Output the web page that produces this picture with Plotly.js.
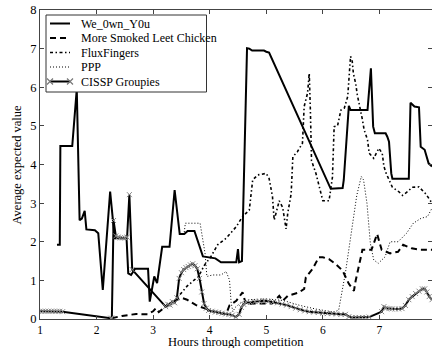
<!DOCTYPE html>
<html>
<head>
<meta charset="utf-8">
<script src="https://cdn.plot.ly/plotly-3.0.1.min.js"></script>
<style>html,body{margin:0;padding:0;background:#fff;}#chart{width:432px;height:348px;}</style>
</head>
<body>
<div id="chart"></div>
<script>
// Team names
const teamNames = ["We_0wn_Y0u", "More Smoked Leet Chicken", "FluxFingers", "PPP", "CISSP Groupies"];

// We_0wn_Y0u
const weX = [1.30,1.35,1.36,1.57,1.65,1.70,1.74,1.79,1.82,1.97,2.03,2.11,2.24,2.32,2.53,2.56,2.61,2.68,2.91,2.94,3.02,3.07,3.16,3.29,3.38,3.41,3.47,3.55,3.61,3.73,3.88,4.10,4.20,4.47,4.50,4.52,4.57,4.66,4.70,4.75,4.96,5.00,5.05,6.14,6.35,6.37,6.46,6.49,6.79,6.85,6.89,6.92,7.11,7.14,7.17,7.21,7.23,7.52,7.55,7.62,7.70,7.73,7.80,7.87,7.93];
const weY = [1.92,1.92,4.48,4.48,5.95,2.56,2.60,2.80,2.32,2.30,2.22,0.75,3.30,2.09,2.09,1.18,1.14,1.30,1.30,0.45,1.10,0.93,1.87,1.87,3.34,3.00,2.20,2.20,2.28,2.28,1.62,1.57,1.47,1.47,1.81,1.47,1.50,7.01,7.00,6.95,6.95,6.92,6.90,3.37,3.39,3.60,5.52,5.41,5.41,6.49,4.98,4.81,4.81,4.72,4.59,3.77,3.63,3.63,5.60,5.50,5.48,4.46,4.38,4.03,3.95];

// More Smoked Leet Chicken
const mslX = [2.27,2.45,2.70,2.90,3.00,3.05,3.10,3.20,3.35,3.50,3.60,3.76,3.90,4.00,4.20,4.29,4.35,4.47,4.58,4.64,4.80,5.10,5.23,5.29,5.38,5.58,5.67,5.70,5.82,5.93,6.00,6.11,6.23,6.35,6.46,6.55,6.58,6.64,6.70,6.86,6.96,7.04,7.19,7.33,7.42,7.57,7.72,7.93];
const mslY = [0.02,0.08,0.13,0.12,0.20,0.28,0.18,0.30,0.45,0.55,0.50,0.36,0.28,0.22,0.15,0.13,0.35,0.47,0.69,0.39,0.40,0.40,0.60,0.47,0.60,0.69,0.78,1.08,1.30,1.60,1.60,1.55,1.42,1.25,0.91,0.73,0.99,1.42,1.79,1.79,2.20,1.79,1.70,1.74,1.92,1.83,1.79,1.79];

// FluxFingers
const ffX = [3.22,3.40,3.60,3.80,3.91,4.02,4.14,4.29,4.47,4.58,4.70,4.76,4.85,5.00,5.05,5.11,5.14,5.23,5.29,5.32,5.35,5.38,5.44,5.47,5.55,5.64,5.67,5.73,5.76,5.78,5.80,5.88,6.00,6.11,6.14,6.17,6.20,6.26,6.32,6.38,6.44,6.49,6.52,6.54,6.58,6.61,6.70,6.73,6.79,6.82,6.90,6.99,7.05,7.08,7.12,7.19,7.23,7.34,7.41,7.50,7.58,7.70,7.82,7.93];
const ffY = [0.32,0.50,0.85,1.10,1.40,1.61,1.92,2.09,2.39,2.65,2.82,3.60,3.73,3.77,3.64,3.17,2.56,3.06,2.89,2.59,2.33,2.74,3.24,4.20,4.33,4.55,5.50,5.85,6.36,5.40,4.10,3.76,3.06,3.06,3.32,3.67,4.98,5.00,5.41,5.46,5.76,6.80,6.67,6.36,6.10,5.80,5.16,4.90,4.64,4.29,4.16,4.42,4.29,3.95,3.77,3.51,3.41,3.30,3.20,3.30,3.41,3.42,3.24,3.00];

// PPP
const pppX = [3.55,3.57,3.83,3.92,3.95,4.05,4.20,4.29,4.35,4.38,4.41,4.45,4.55,4.70,5.00,5.30,5.60,5.90,6.20,6.28,6.40,6.50,6.60,6.68,6.72,6.78,6.84,6.90,6.98,7.10,7.19,7.33,7.48,7.60,7.74,7.85,7.93];
const pppY = [2.25,2.48,2.48,1.68,1.10,1.14,1.14,1.23,1.01,0.41,0.19,0.30,0.42,0.50,0.52,0.48,0.35,0.25,0.18,0.23,1.20,2.20,3.20,3.69,3.60,3.00,1.96,1.53,1.44,1.61,2.00,2.00,2.22,2.48,2.61,2.65,2.87];

// CISSP Groupies
const cgX = [1.00,1.05,1.10,1.15,1.20,1.25,1.30,1.35,1.40,2.25,2.27,2.30,2.34,2.38,2.42,2.46,2.50,2.54,2.58,2.63,3.22,3.26,3.30,3.34,3.38,3.42,3.46,3.50,3.54,3.58,3.62,3.66,3.70,3.74,3.78,3.82,3.86,3.90,3.94,3.98,4.04,4.10,4.16,4.22,4.28,4.34,4.40,4.46,4.52,4.56,4.60,4.65,4.72,4.80,4.88,4.96,5.04,5.12,5.20,5.28,5.36,5.44,5.52,5.60,5.68,5.76,5.84,5.92,6.00,6.08,6.16,6.24,6.32,6.40,6.46,6.52,6.58,6.64,6.70,6.76,6.82,7.04,7.08,7.12,7.17,7.22,7.28,7.34,7.40,7.46,7.52,7.58,7.64,7.70,7.76,7.80,7.84,7.88,7.93];
const cgY = [0.20,0.20,0.20,0.20,0.20,0.20,0.20,0.20,0.19,0.02,0.02,2.55,2.15,2.12,2.10,2.10,2.10,2.12,3.22,1.28,0.32,0.38,0.36,0.45,0.42,0.55,1.05,1.20,1.28,1.33,1.36,1.40,1.43,1.38,1.30,1.05,0.70,0.40,0.28,0.22,0.20,0.18,0.17,0.15,0.13,0.12,0.10,0.05,0.12,0.30,0.38,0.43,0.43,0.45,0.46,0.47,0.46,0.44,0.42,0.39,0.36,0.32,0.28,0.24,0.21,0.19,0.18,0.17,0.15,0.14,0.14,0.13,0.12,0.12,0.06,0.04,0.04,0.04,0.04,0.04,0.05,0.19,0.32,0.28,0.27,0.26,0.26,0.26,0.27,0.35,0.50,0.58,0.66,0.72,0.78,0.78,0.70,0.58,0.50];

const xTicks = [1,2,3,4,5,6,7];
const yTicks = [0,1,2,3,4,5,6,7,8];

const FONT = "Liberation Serif";
const X_RANGE = [1, 7.93];
const Y_RANGE = [0, 8];
const PLOT = {left: 40, right: 432, top: 10, bottom: 319};

const lineStyles = [
  {color: "#000", width: 2},
  {color: "#000", width: 2, dash: "6px,4px"},
  {color: "#000", width: 1.6, dash: "3px,2.5px,1.5px,2.5px"},
  {color: "#000", width: 1, dash: "1px,2px"},
  {color: "#000", width: 2}
];
const cgMarker = {symbol: "x-thin", size: 5, color: "#888", line: {color: "#888", width: 1}};

const seriesX = [weX, mslX, ffX, pppX, cgX];
const seriesY = [weY, mslY, ffY, pppY, cgY];
const traces = seriesX.map((xs, i) => {
  const t = {x: xs, y: seriesY[i], name: teamNames[i], mode: "lines", line: lineStyles[i],
             showlegend: false, hoverinfo: "skip"};
  if (i === 4) { t.mode = "lines+markers"; t.marker = cgMarker; }
  return t;
});

// Legend: drawn as the last traces (so it sits above the data), positioned in pixels
// and converted to axis units from the axis ranges.
const pxToX = p => X_RANGE[0] + (p - PLOT.left) / (PLOT.right - PLOT.left) * (X_RANGE[1] - X_RANGE[0]);
const pyToY = p => Y_RANGE[0] + (PLOT.bottom - p) / (PLOT.bottom - PLOT.top) * (Y_RANGE[1] - Y_RANGE[0]);
const legBox = {x0: 46, x1: 206.5, y0: 15, y1: 92};
const rowY = [23.5, 38, 52.5, 67, 81.5];
const sampleX = [50, 70];
const textX = 79;
traces.push({x: [legBox.x0, legBox.x1, legBox.x1, legBox.x0, legBox.x0].map(pxToX),
  y: [legBox.y0, legBox.y0, legBox.y1, legBox.y1, legBox.y0].map(pyToY),
  mode: "lines", fill: "toself", fillcolor: "rgb(255,255,255)",
  line: {color: "#333", width: 1}, showlegend: false, hoverinfo: "skip"});
teamNames.forEach((nm, i) => {
  const t = {x: sampleX.map(pxToX), y: [rowY[i], rowY[i]].map(pyToY), mode: "lines",
    line: lineStyles[i], showlegend: false, hoverinfo: "skip"};
  if (i === 4) { t.mode = "lines+markers"; t.marker = {symbol: "x-thin", size: 6, color: "#777", line: {color: "#777", width: 1.2}}; }
  traces.push(t);
});

const annotations = teamNames.map((nm, i) => ({
  xref: "x", yref: "y", x: pxToX(textX), y: pyToY(rowY[i]), xanchor: "left", yanchor: "middle",
  text: nm, showarrow: false, font: {family: FONT, size: 12, color: "#000"}
}));
// Axis titles
annotations.push({xref: "paper", yref: "paper", x: 0.5, y: -31 / 309, xanchor: "center", yanchor: "bottom",
  borderpad: 0, text: "Hours through competition", showarrow: false,
  font: {family: FONT, size: 12.5, color: "#000"}});
annotations.push({xref: "paper", yref: "paper", x: (16 - 40) / 392, y: 0.5, xanchor: "center", yanchor: "middle",
  text: "Average expected value", textangle: -90, showarrow: false,
  font: {family: FONT, size: 12.5, color: "#000"}});

const layout = {
  width: 432, height: 348,
  margin: {l: 40, r: 0, t: 10, b: 29, pad: 0},
  paper_bgcolor: "#fff", plot_bgcolor: "#fff",
  font: {family: FONT, size: 12, color: "#000"},
  showlegend: false,
  annotations: annotations,
  xaxis: {
    range: X_RANGE, tickvals: xTicks, ticktext: xTicks.map(String),
    showgrid: false, zeroline: false, showline: true, linecolor: "#444", linewidth: 1,
    mirror: "ticks", ticks: "inside", ticklen: 4, tickcolor: "#444",
    tickfont: {family: FONT, size: 11.5}
  },
  yaxis: {
    range: Y_RANGE, tickvals: yTicks, ticktext: yTicks.map(String),
    showgrid: false, zeroline: false, showline: true, linecolor: "#444", linewidth: 1,
    mirror: "ticks", ticks: "inside", ticklen: 4, tickcolor: "#444",
    tickfont: {family: FONT, size: 12.5}
  }
};

Plotly.newPlot("chart", traces, layout, {displayModeBar: false, staticPlot: true});
</script>
</body>
</html>
